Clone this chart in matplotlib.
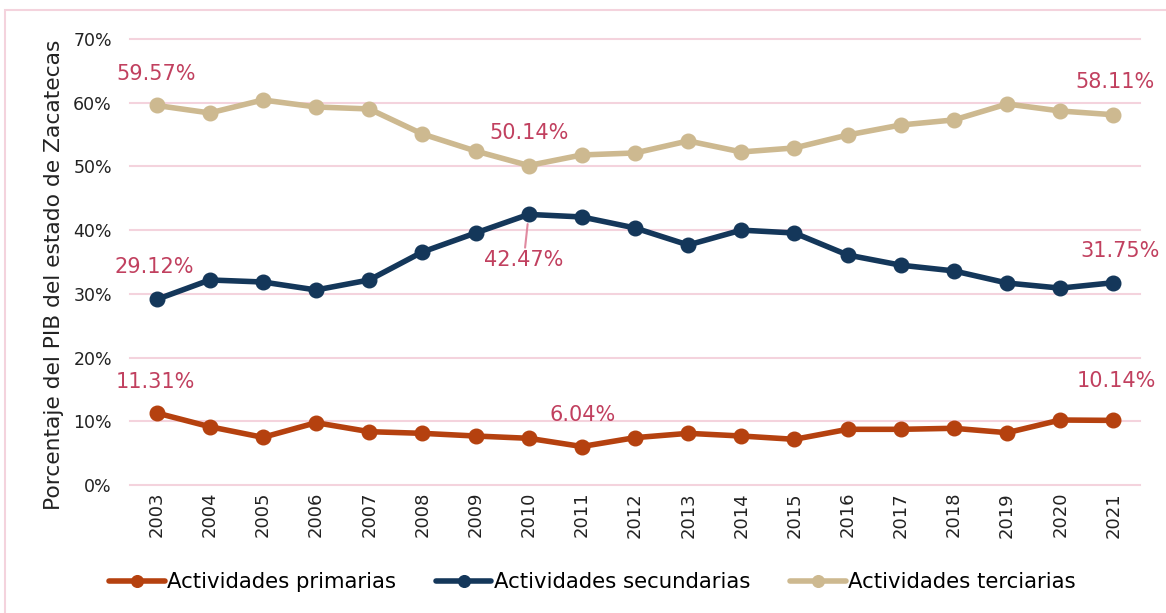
import matplotlib.pyplot as plt
from matplotlib.patches import Rectangle

years = list(range(2003, 2022))
primarias = [11.31, 9.15, 7.48, 9.78, 8.37, 8.11, 7.69, 7.33, 6.04, 7.43,
             8.11, 7.69, 7.17, 8.74, 8.74, 8.90, 8.21, 10.20, 10.14]
secundarias = [29.12, 32.18, 31.86, 30.61, 32.18, 36.57, 39.55, 42.47, 42.07, 40.34,
               37.67, 40.00, 39.55, 36.10, 34.50, 33.60, 31.70, 30.90, 31.75]
terciarias = [59.57, 58.39, 60.43, 59.33, 59.02, 55.09, 52.42, 50.14, 51.80, 52.11,
              54.00, 52.27, 52.90, 54.93, 56.50, 57.30, 59.80, 58.70, 58.11]
y_ticks = [0, 10, 20, 30, 40, 50, 60, 70]

c_prim = '#b5410f'
c_sec = '#14375a'
c_ter = '#cdb990'
c_lab = '#c1405f'
c_grid = '#f4d3dd'

plt.rcParams['font.family'] = ['DejaVu Sans']

fig = plt.figure(figsize=(11.66, 6.13), dpi=100)
ax = fig.add_axes([0.1115, 0.2088, 0.8662, 0.7276])

for vals, col, name in [(primarias, c_prim, 'Actividades primarias'),
                        (secundarias, c_sec, 'Actividades secundarias'),
                        (terciarias, c_ter, 'Actividades terciarias')]:
    ax.plot(years, vals, color=col, lw=4, marker='o', ms=10.5, label=name,
            solid_capstyle='round', zorder=3)

ax.set_xlim(2002.5, 2021.5)
ax.set_ylim(0, 70)
ax.set_yticks(y_ticks)
ax.set_yticklabels([f'{v}%' for v in y_ticks])
ax.set_xticks(years)
ax.set_xticklabels([str(y) for y in years], rotation=90)
ax.tick_params(axis='y', length=0, pad=13, labelsize=12.5, colors='#222222')
ax.tick_params(axis='x', length=0, pad=5, labelsize=13, colors='#222222')
ax.grid(axis='y', color=c_grid, lw=1.5, zorder=0)
for gl in ax.get_ygridlines():
    gl.set_clip_on(False)
for s in ax.spines.values():
    s.set_visible(False)
ax.set_ylabel('Porcentaje del PIB del estado de Zacatecas', fontsize=15.7,
              color='#222222')
ax.yaxis.set_label_coords(-0.065, 0.471)

# labels on first, last and extreme points
def label(series, i, dx, dy, arrow=False):
    kw = {}
    if arrow:
        kw['arrowprops'] = dict(arrowstyle='-', color='#e08aa0', lw=1.5,
                                shrinkA=0, shrinkB=7)
    ax.annotate(f'{series[i]:.2f}%', (years[i], series[i]), xytext=(dx, dy),
                textcoords='offset pixels', ha='center', va='center',
                fontsize=15, color=c_lab, **kw)

label(terciarias, 0, 0, 31)
label(terciarias, 7, 0, 33)
label(terciarias, 18, 2, 33)
label(secundarias, 0, -2, 32)
label(secundarias, 7, -5, -46, arrow=True)
label(secundarias, 18, 7, 32)
label(primarias, 0, -1, 31)
label(primarias, 8, 1, 32)
label(primarias, 18, 3, 39)

fig.legend(loc='center', bbox_to_anchor=(0.508, 1 - 582 / 613), ncol=3,
           frameon=False, fontsize=15.3, handlelength=2.6, handletextpad=0.1,
           columnspacing=1.9, markerscale=0.8)

fig.add_artist(Rectangle((5 / 1166, -0.1), 1.2, 1 - 10 / 613 + 0.1,
                         transform=fig.transFigure, fill=False,
                         edgecolor=c_grid, lw=1.5))

fig.savefig('out.png', dpi=100)
